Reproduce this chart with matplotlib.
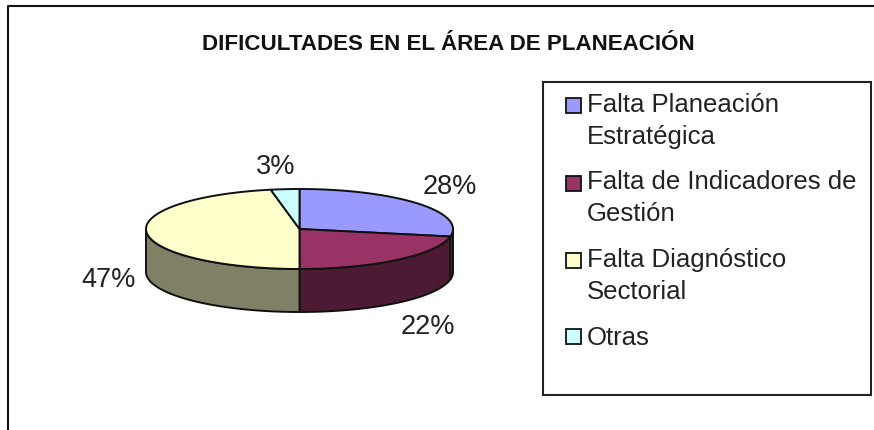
# -*- coding: utf-8 -*-
# excel style 3D pie, dificultades en planeacion
import numpy as np
import matplotlib
matplotlib.use('Agg')
import matplotlib.pyplot as plt
from matplotlib.patches import Rectangle

#%% data
categories = ['Falta Planeación\nEstratégica', 'Falta de Indicadores de\nGestión',
              'Falta Diagnóstico\nSectorial', 'Otras']
values = [28, 22, 47, 3]
title = 'DIFICULTADES EN EL ÁREA DE PLANEACIÓN'

#%% styles
top_colors = ['#9999FF', '#993366', '#FFFFCC', '#CCFFFF']
side_colors = ['#4D4D80', '#4D1A33', '#808066', '#668080']
edge = '#101010'
text_col = '#222222'

plt.rcParams['font.family'] = ['Liberation Sans', 'DejaVu Sans']

W, H = 874, 430
fig = plt.figure(figsize=(W / 100, H / 100), dpi=100)
ax = fig.add_axes([0, 0, 1, 1])
ax.set_xlim(0, W)
ax.set_ylim(H, 0)   # pixel coords, y down
ax.axis('off')

# pie geometry
cx, cy, rx, ry, depth = 299.5, 229, 153.5, 40, 43

def rim(t):
    # t = degrees clockwise from 12 o'clock
    t = np.radians(t)
    return cx + rx * np.sin(t), cy - ry * np.cos(t)

#%% outer frame
ax.plot([8, 8, W], [H, 6, 6], color='#111111', lw=1.5, solid_capstyle='butt')

#%% pie
fracs = np.array(values) / sum(values) * 360
starts = np.concatenate(([0], np.cumsum(fracs)[:-1]))

# sides first, only the front half (90..270) shows
for s, f, c in zip(starts, fracs, side_colors):
    a, b = max(s, 90), min(s + f, 270)
    if b <= a:
        continue
    x, y = rim(np.linspace(a, b, 80))
    ax.fill(np.r_[x, x[::-1]], np.r_[y, y[::-1] + depth], fc=c, ec=edge, lw=1.4, zorder=2)

# tops
for s, f, c in zip(starts, fracs, top_colors):
    x, y = rim(np.linspace(s, s + f, 120))
    ax.fill(np.r_[cx, x], np.r_[cy, y], fc=c, ec=edge, lw=1.4, zorder=3)

#%% percent labels
label_xy = [(450, 187), (428, 327), (109, 280), (276, 167)]
for v, (lx, ly) in zip(values, label_xy):
    ax.text(lx, ly, '{}%'.format(v), fontsize=19.5, color=text_col, ha='center', va='center', zorder=4)

#%% title
ax.text(448.5, 45, title, fontsize=16.1, fontweight='bold', color='#111111', ha='center', va='center')

#%% legend box
ax.add_patch(Rectangle((543, 82), 328, 313, fc='white', ec='#222222', lw=1.5))
legend_y = [105, 183, 260, 336]
text_y = [93, 170, 248, 326]
for name, c, ly, ty in zip(categories, top_colors, legend_y, text_y):
    ax.add_patch(Rectangle((565.5, ly - 7.5), 15, 15, fc=c, ec='#111111', lw=1.3))
    ax.text(587, ty, name, fontsize=18.5, color=text_col, ha='left', va='top', linespacing=1.42)

fig.savefig('out.png', dpi=100, facecolor='white')
